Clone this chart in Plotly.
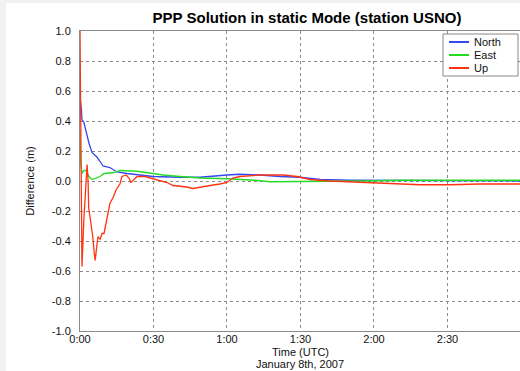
import plotly.graph_objects as go

# ---- data (time in minutes after 0:00 UTC, difference in metres) ----
north_t = [0, 0.1, 0.6, 0.8, 1.6, 2.0, 2.9, 3.7, 4.9, 6.9, 8.2, 9.4, 12.2, 15.1, 19.2, 24.5,
           29.8, 40.8, 49.0, 60.0, 65.3, 73.5, 81.6, 89.8, 98.0, 110.2, 118.4, 130.6, 163.3, 179.6]
north_v = [0.67, 0.55, 0.47, 0.41, 0.39, 0.36, 0.31, 0.25, 0.19, 0.16, 0.13, 0.10, 0.09, 0.06, 0.05, 0.04,
           0.03, 0.025, 0.025, 0.04, 0.045, 0.04, 0.03, 0.025, 0.01, 0.005, 0.005, 0.0, 0.0, 0.0]

east_t = [0, 0.3, 0.8, 1.6, 2.4, 3.7, 4.9, 6.5, 8.2, 9.8, 12.2, 13.5, 16.3, 19.2, 23.3, 29.8,
          33.9, 40.8, 49.0, 60.0, 67.3, 71.4, 77.6, 89.8, 102.0, 114.3, 132.7, 179.6]
east_v = [0.34, 0.12, 0.05, 0.07, 0.07, 0.03, 0.01, 0.02, 0.03, 0.05, 0.05, 0.055, 0.07, 0.07, 0.065, 0.05,
          0.04, 0.03, 0.02, 0.015, 0.01, 0.005, -0.005, -0.005, -0.005, 0.0, 0.005, 0.005]

up_t = [0, 0.6, 0.8, 1.6, 2.45, 2.9, 3.3, 3.55, 4.1, 5.2, 5.8, 6.2, 6.8, 7.35, 8.2, 9.0, 9.8,
        11.0, 12.2, 13.5, 14.7, 16.3, 17.1, 18.8, 20.0, 20.8, 22.0, 23.3, 26.5, 28.6, 32.7, 35.5,
        38.0, 43.7, 46.1, 49.0, 53.1, 57.1, 60.0, 62.4, 65.3, 73.5, 82.9, 88.6, 93.9, 102.0,
        110.2, 119.6, 130.6, 138.8, 151.0, 163.3, 179.6]
up_v = [1.0, -0.57, -0.57, -0.25, 0.05, 0.11, 0.0, -0.18, -0.24, -0.37, -0.48, -0.53, -0.44, -0.37, -0.39,
        -0.35, -0.35, -0.24, -0.15, -0.11, -0.06, -0.02, 0.03, 0.04, 0.02, -0.01, 0.01, 0.03, 0.03, 0.02,
        0.0, -0.01, -0.03, -0.04, -0.05, -0.04, -0.03, -0.02, -0.01, 0.02, 0.03, 0.04, 0.04, 0.03, 0.01,
        0.0, -0.005, -0.01, -0.02, -0.025, -0.025, -0.02, -0.02]

x_tickvals = [0, 30, 60, 90, 120, 150]
x_ticktext = ["0:00", "0:30", "1:00", "1:30", "2:00", "2:30"]
y_tickvals = [-1.0, -0.8, -0.6, -0.4, -0.2, 0.0, 0.2, 0.4, 0.6, 0.8, 1.0]
y_ticktext = ["-1.0", "-0.8", "-0.6", "-0.4", "-0.2", "0.0", "0.2", "0.4", "0.6", "0.8", "1.0"]

series_names = ["North", "East", "Up"]
series_colors = ["#3548f0", "#22dd22", "#ff3311"]

x_title_lines = ["Time (UTC)", "January 8th, 2007"]
y_title = "Difference (m)"
chart_title = "PPP Solution in static Mode (station USNO)"

W, H = 520, 371
ML, MR, MT, MB = 80, 0, 31, 40
PW, PH = W - ML - MR, H - MT - MB

def px_x(p):
    return (p - ML) / PW

def px_y(p):
    return (H - MB - p) / PH

font = "Liberation Sans, Arial, sans-serif"

fig = go.Figure()
for name, t, v, c in zip(series_names, [north_t, east_t, up_t], [north_v, east_v, up_v], series_colors):
    fig.add_trace(go.Scatter(x=t, y=v, mode="lines", name=name,
                             line=dict(color=c, width=1.3), showlegend=False))

shapes = [
    # white panel over light-grey page
    dict(type="rect", xref="paper", yref="paper", x0=px_x(6), x1=px_x(525), y0=px_y(375), y1=px_y(3),
         fillcolor="white", line=dict(width=0), layer="below"),
    # legend box
    dict(type="rect", xref="paper", yref="paper", x0=px_x(443), x1=px_x(518), y0=px_y(76), y1=px_y(34),
         fillcolor="white", line=dict(color="#888888", width=1), layer="above"),
]
annotations = []
legend_rows = [42, 55, 68]
for name, c, ry in zip(series_names, series_colors, legend_rows):
    shapes.append(dict(type="line", xref="paper", yref="paper", x0=px_x(449), x1=px_x(469),
                       y0=px_y(ry), y1=px_y(ry), line=dict(color=c, width=2), layer="above"))
    annotations.append(dict(xref="paper", yref="paper", x=px_x(473), y=px_y(ry), text=name,
                            showarrow=False, xanchor="left", yanchor="middle", borderpad=0,
                            font=dict(family=font, size=11, color="#111111")))

# x-axis title (two lines)
for txt, ry in zip(x_title_lines, [352, 364]):
    annotations.append(dict(xref="paper", yref="paper", x=px_x(300), y=px_y(ry), text=txt,
                            showarrow=False, xanchor="center", yanchor="middle", borderpad=0,
                            font=dict(family=font, size=11, color="#111111")))

fig.update_layout(
    width=W, height=H,
    margin=dict(l=ML, r=MR, t=MT, b=MB, pad=0),
    paper_bgcolor="#f2f2f2", plot_bgcolor="white",
    font=dict(family=font, size=11, color="#111111"),
    title=dict(text="<b>" + chart_title + "</b>", x=307 / W,
               xref="container", xanchor="center", y=1 - 18 / H, yref="container", yanchor="middle",
               font=dict(family=font, size=15, color="#000000")),
    shapes=shapes, annotations=annotations, showlegend=False,
)
fig.update_xaxes(range=[0, 179.6], tickvals=x_tickvals, ticktext=x_ticktext,
                 showgrid=True, gridcolor="#8a8a8a", griddash="dot", gridwidth=1,
                 showline=True, linecolor="#8a8a8a", linewidth=1, mirror=True,
                 zeroline=False, ticks="", ticklabelstandoff=-2, tickfont=dict(size=11))
fig.update_yaxes(range=[-1.0, 1.0], tickvals=y_tickvals, ticktext=y_ticktext,
                 showgrid=True, gridcolor="#8a8a8a", griddash="dot", gridwidth=1,
                 showline=True, linecolor="#8a8a8a", linewidth=1,
                 zeroline=False, ticks="outside", ticklen=6, tickcolor="rgba(0,0,0,0)",
                 tickfont=dict(size=11),
                 title=dict(text=y_title, standoff=14, font=dict(size=11)))

fig.write_html("out.html")
